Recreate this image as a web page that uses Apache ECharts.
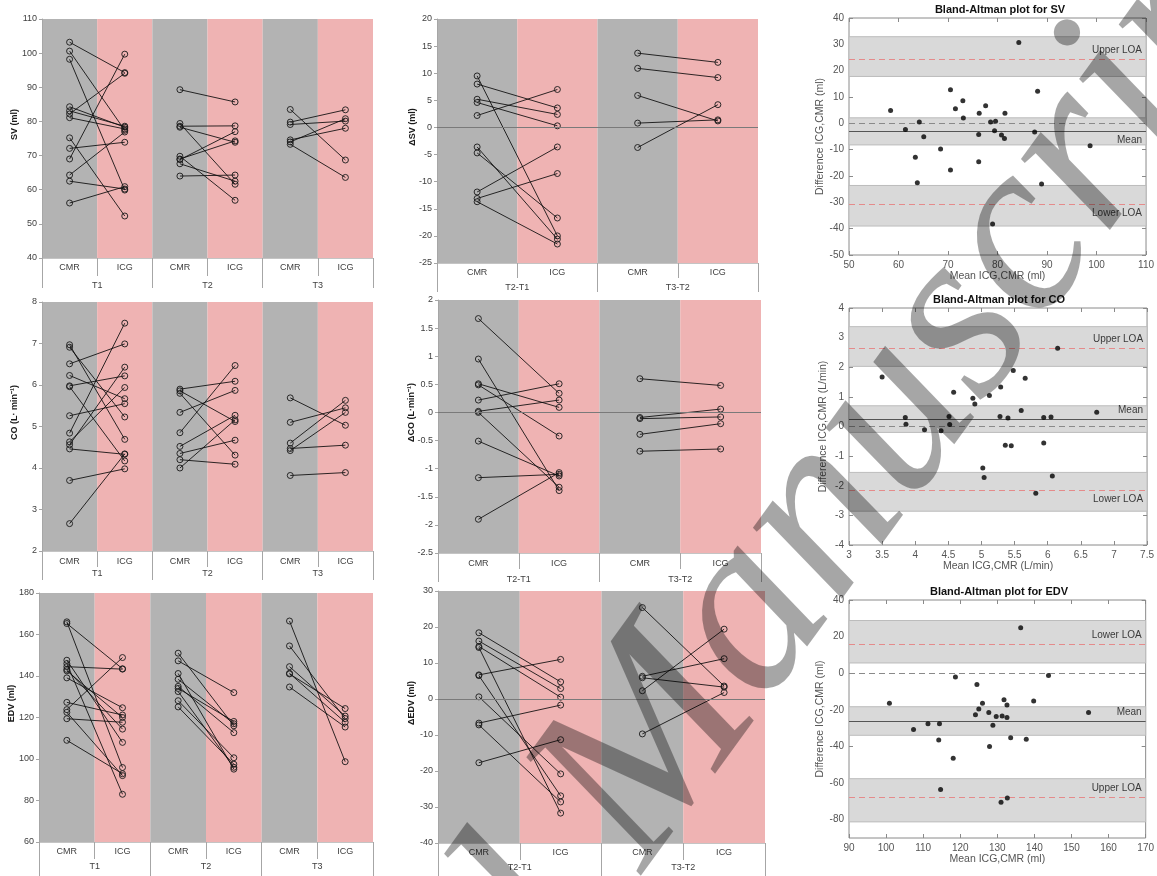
<!DOCTYPE html>
<html><head><meta charset="utf-8">
<script src="https://cdn.jsdelivr.net/npm/echarts@6/dist/echarts.min.js"></script>
<style>html,body{margin:0;padding:0;background:#fff}#c{width:1157px;height:876px}</style>
</head><body><div id="c"></div>
<script>
// ---------- categories / tick labels ----------
const catsT = ['CMR','ICG','CMR','ICG','CMR','ICG'];
const groupsT = ['T1','T2','T3'];
const catsD = ['CMR','ICG','CMR','ICG'];
const groupsD = ['T2-T1','T3-T2'];

// ---------- SV (ml), paired CMR -> ICG ----------
const svT1CMR = [103.2, 100.6, 98.2, 84.3, 83.1, 82.2, 81.1, 75.2, 72.1, 69.0, 64.3, 62.5, 56.1];
const svT1ICG = [94.3, 77.4, 59.9, 78.3, 78.6, 94.1, 77.8, 52.3, 73.9, 99.7, 76.9, 60.2, 60.9];
const svT2CMR = [89.3, 79.4, 78.6, 78.3, 69.8, 69.0, 68.8, 67.6, 64.0];
const svT2ICG = [85.7, 61.6, 78.7, 73.9, 56.9, 74.3, 77.0, 62.5, 64.3];
const svT3CMR = [83.5, 79.8, 79.1, 74.6, 74.0, 73.3];
const svT3ICG = [68.7, 83.4, 80.1, 78.0, 80.8, 63.6];

// ---------- ΔSV (ml) ----------
const dsvA_CMR = [9.5, 8.0, 5.2, 4.6, 2.2, -3.6, -4.7, -11.9, -13.1, -13.7];
const dsvA_ICG = [-20.0, 3.6, 2.4, 0.3, 7.0, -20.6, -16.7, -3.6, -8.5, -21.5];
const dsvB_CMR = [13.7, 10.9, 5.9, 0.8, -3.7];
const dsvB_ICG = [12.0, 9.2, 1.2, 1.4, 4.2];

// ---------- CO (L/min) ----------
const coT1CMR = [6.97, 6.91, 6.51, 6.23, 5.98, 5.96, 5.26, 4.84, 4.63, 4.56, 4.46, 3.70, 2.66];
const coT1ICG = [4.69, 5.23, 6.99, 5.67, 6.22, 4.17, 5.55, 7.49, 5.94, 6.43, 4.33, 3.98, 4.34];
const coT2CMR = [5.90, 5.86, 5.80, 5.34, 4.85, 4.52, 4.35, 4.20, 4.00];
const coT2ICG = [6.09, 5.12, 4.31, 5.87, 6.47, 5.27, 4.67, 4.09, 5.16];
const coT3CMR = [5.69, 5.10, 4.60, 4.47, 4.42, 3.82];
const coT3ICG = [5.03, 5.45, 5.63, 4.55, 5.34, 3.89];

// ---------- ΔCO (L/min) ----------
const dcoA_CMR = [1.67, 0.95, 0.51, 0.49, 0.22, 0.02, 0.00, -0.51, -1.16, -1.90];
const dcoA_ICG = [0.34, -1.39, 0.09, -0.42, 0.51, 0.22, -1.33, -1.13, -1.10, -1.07];
const dcoB_CMR = [0.60, -0.09, -0.11, -0.39, -0.69];
const dcoB_ICG = [0.48, 0.06, -0.08, -0.20, -0.65];

// ---------- EDV (ml) ----------
const edvT1CMR = [166.1, 165.3, 147.6, 146.0, 144.5, 143.2, 142.5, 139.1, 127.3, 123.8, 122.5, 119.4, 109.0];
const edvT1ICG = [95.9, 143.5, 108.0, 83.0, 143.3, 114.4, 120.0, 124.7, 121.2, 148.9, 92.0, 117.7, 92.9];
const edvT2CMR = [151.0, 147.3, 141.2, 138.4, 135.0, 134.0, 132.5, 128.1, 125.1];
const edvT2ICG = [116.0, 132.0, 95.1, 117.0, 112.7, 118.1, 96.0, 100.6, 97.5];
const edvT3CMR = [166.5, 154.5, 144.5, 141.3, 141.0, 134.7];
const edvT3ICG = [98.7, 119.5, 120.7, 117.7, 124.3, 115.4];

// ---------- ΔEDV (ml) ----------
const dedvA_CMR = [18.4, 16.1, 14.6, 14.3, 6.7, 6.5, 0.6, -6.7, -7.2, -17.7];
const dedvA_ICG = [4.75, 2.9, 0.5, -31.7, 11.0, -26.9, -20.8, -1.7, -28.6, -11.3];
const dedvB_CMR = [25.4, 6.3, 5.9, 2.3, -9.7];
const dedvB_ICG = [3.6, 11.2, 3.3, 19.4, 1.8];

// ---------- Bland-Altman: mean / difference ----------
const baSV_mean = [58.4, 61.4, 63.4, 63.8, 64.2, 65.1, 68.5, 70.5, 70.5, 71.5, 73.0, 73.1, 76.3, 76.2, 76.2, 77.6, 78.6, 79.4, 79.6, 79.0, 80.8, 81.4, 81.5, 84.3, 87.5, 88.1, 88.9, 98.7];
const baSV_diff = [4.9, -2.3, -12.9, -22.6, 0.5, -5.1, -9.7, 12.8, -17.7, 5.5, 8.6, 2.0, 3.8, -4.2, -14.6, 6.7, 0.5, -2.8, 0.8, -38.2, -4.4, -5.8, 3.8, 30.7, -3.3, 12.2, -23.0, -8.5];
const baSV_bands = [[17.8, 32.9], [-8.2, 2.1], [-39.0, -23.6]];
const baSV_levels = [24.4, 0, -3.1, -30.6];   // upper LOA, zero, mean, lower LOA

const baCO_mean = [3.50, 3.85, 3.86, 4.14, 4.39, 4.58, 4.51, 4.52, 4.87, 4.90, 5.02, 5.04, 5.12, 5.28, 5.29, 5.36, 5.40, 5.45, 5.48, 5.60, 5.66, 5.82, 5.94, 5.94, 6.05, 6.07, 6.15, 6.74];
const baCO_diff = [1.67, 0.30, 0.08, -0.11, -0.14, 1.16, 0.34, 0.07, 0.95, 0.76, -1.40, -1.72, 1.05, 0.34, 1.33, -0.63, 0.29, -0.65, 1.89, 0.54, 1.63, -2.25, 0.30, -0.56, 0.32, -1.67, 2.64, 0.48];
const baCO_bands = [[2.03, 3.37], [-0.20, 0.70], [-2.86, -1.55]];
const baCO_levels = [2.63, 0, 0.25, -2.14];

const baEDV_mean = [100.9, 107.4, 111.3, 114.4, 114.2, 114.7, 118.1, 118.7, 124.1, 124.5, 125.0, 126.0, 127.7, 127.9, 129.7, 128.8, 131.3, 131.8, 132.6, 132.6, 132.7, 131.0, 133.6, 136.3, 137.8, 139.8, 143.8, 154.6];
const baEDV_diff = [-16.4, -30.7, -27.6, -27.6, -36.5, -63.5, -46.5, -2.0, -22.7, -6.2, -19.5, -16.4, -21.5, -40.0, -23.6, -28.4, -23.3, -14.5, -17.3, -24.2, -68.2, -70.5, -35.3, 24.9, -36.0, -15.1, -1.3, -21.5];
const baEDV_bands = [[5.6, 28.8], [-33.9, -18.3], [-81.2, -57.6]];
const baEDV_levels = [15.7, 0, -26.2, -68.0];
const baEDV_yTicks = [-80, -60, -40, -20, 0, 20, 40];

// ---------- building ----------
const FONT = '"Liberation Sans", Arial, Helvetica, sans-serif';
const grids = [], xAxes = [], yAxes = [], series = [], graphics = [];

function pairedPanel(c) {
  const gi = grids.length;
  grids.push({left: c.rect[0], top: c.rect[1], width: c.rect[2], height: c.rect[3]});
  const xi = xAxes.length;
  xAxes.push({type:'category', gridIndex:gi, data:c.cats, position:'bottom', boundaryGap:true,
    axisLine:{show:true, onZero:false, lineStyle:{color:'#c4c4c4', width:1}},
    axisTick:{show:true, interval:0, length:c.shortTick, lineStyle:{color:'#a6a6a6'}},
    axisLabel:{interval:0, margin:c.catMargin, fontSize:9, color:'#404040', fontFamily:FONT},
    splitLine:{show:false},
    splitArea:{show:true, interval:0, areaStyle:{color:['#b3b3b3','#efb3b3']}}});
  xAxes.push({type:'category', gridIndex:gi, data:c.groups, position:'bottom', boundaryGap:true,
    axisLine:{show:false, onZero:false},
    axisTick:{show:true, interval:0, length:c.longTick, lineStyle:{color:'#a6a6a6'}},
    axisLabel:{interval:0, margin:c.groupMargin, fontSize:9, color:'#404040', fontFamily:FONT},
    splitLine:{show:false}, splitArea:{show:false}});
  const yi = yAxes.length;
  yAxes.push({type:'value', gridIndex:gi, min:c.y[0], max:c.y[1], interval:c.y[2],
    axisLine:{show:true, onZero:false, lineStyle:{color:'#a6a6a6'}},
    axisTick:{show:true, length:3, lineStyle:{color:'#a6a6a6'}},
    axisLabel:{fontSize:9, color:'#404040', margin:5, fontFamily:FONT},
    splitLine:{show:false}});
  // axis title, centred a little above the plot centre (as in the source layout)
  graphics.push({type:'text', x:c.nameX, y:c.rect[1] + c.rect[3] / 2 - 14, rotation:Math.PI / 2, silent:true,
    style:{text:c.name, font:'bold 9px ' + FONT, fill:'#1a1a1a', align:'center', verticalAlign:'middle'}});
  let first = true;
  c.pairs.forEach((pr, k) => {
    const cm = pr[0], ic = pr[1];
    for (let j = 0; j < cm.length; j++) {
      const s = {type:'line', xAxisIndex:xi, yAxisIndex:yi, silent:true, z:3,
        data:[[2*k, cm[j]], [2*k+1, ic[j]]],
        symbol:'circle', symbolSize:6, showSymbol:true,
        lineStyle:{color:'rgba(10,10,10,0.85)', width:1},
        itemStyle:{color:'rgba(0,0,0,0)', borderColor:'rgba(25,25,25,0.9)', borderWidth:1}};
      if (first && c.zero) {
        s.markLine = {silent:true, symbol:'none', label:{show:false},
          lineStyle:{color:'#7a7a7a', type:'solid', width:1}, data:[{yAxis:0}]};
      }
      first = false;
      series.push(s);
    }
  });
}

function baPanel(c) {
  const gi = grids.length;
  grids.push({left:c.rect[0], top:c.rect[1], width:c.rect[2], height:c.rect[3],
    show:true, borderColor:'#8a8a8a', borderWidth:1, backgroundColor:'rgba(0,0,0,0)'});
  const xi = xAxes.length;
  const tickCol = '#8a8a8a';
  xAxes.push({type:'value', gridIndex:gi, min:c.x[0], max:c.x[1], interval:c.x[2], position:'bottom',
    axisLine:{show:false, onZero:false}, axisTick:{show:true, inside:true, length:4, lineStyle:{color:tickCol}},
    axisLabel:{fontSize:10, color:'#555', margin:5, fontFamily:FONT}, splitLine:{show:false},
    name:c.xName, nameLocation:'middle', nameGap:16,
    nameTextStyle:{fontSize:10.5, color:'#555', fontFamily:FONT}});
  xAxes.push({type:'value', gridIndex:gi, min:c.x[0], max:c.x[1], interval:c.x[2], position:'top',
    axisLine:{show:false, onZero:false}, axisTick:{show:true, inside:true, length:4, lineStyle:{color:tickCol}},
    axisLabel:{show:false}, splitLine:{show:false}});
  const yi = yAxes.length;
  const yl = {type:'value', gridIndex:gi, min:c.y[0], max:c.y[1], position:'left',
    axisLine:{show:false, onZero:false}, axisTick:{show:true, inside:true, length:4, lineStyle:{color:tickCol}},
    axisLabel:{fontSize:10, color:'#555', margin:5, fontFamily:FONT}, splitLine:{show:false},
    name:c.yName, nameLocation:'middle', nameGap:c.yNameGap,
    nameTextStyle:{fontSize:10.5, color:'#555', fontFamily:FONT}};
  const yr = {type:'value', gridIndex:gi, min:c.y[0], max:c.y[1], position:'right',
    axisLine:{show:false, onZero:false}, axisTick:{show:true, inside:true, length:4, lineStyle:{color:tickCol}},
    axisLabel:{show:false}, splitLine:{show:false}};
  if (c.yTicks) {
    yl.axisLabel.customValues = c.yTicks; yl.axisTick.customValues = c.yTicks;
    yr.axisTick.customValues = c.yTicks;
  } else { yl.interval = c.y[2]; yr.interval = c.y[2]; }
  yAxes.push(yl); yAxes.push(yr);
  const red = '#e58b8b';
  const lv = c.levels;
  const lab = (t, pos) => ({show:true, formatter:t, position:pos, color:'#3a3a3a', fontSize:10, fontFamily:FONT, distance:4});
  series.push({type:'scatter', xAxisIndex:xi, yAxisIndex:yi, silent:true, z:5,
    data:c.mean.map((m, i) => [m, c.diff[i]]),
    symbol:'circle', symbolSize:5, itemStyle:{color:'#000'},
    markArea:{silent:true, itemStyle:{color:'#d9d9d9', borderColor:'#bcbcbc', borderWidth:1},
      data:c.bands.map(b => [{yAxis:b[0]}, {yAxis:b[1]}])},
    markLine:{silent:true, symbol:'none', animation:false,
      data:[
        {yAxis:lv[0], lineStyle:{color:red, type:[6,4], width:1.2}, label:lab(c.labels[0], c.labelPos[0])},
        {yAxis:lv[1], lineStyle:{color:'#8a8a8a', type:[6,4], width:1}, label:{show:false}},
        {yAxis:lv[2], lineStyle:{color:'#555', type:'solid', width:1}, label:lab(c.labels[1], c.labelPos[1])},
        {yAxis:lv[3], lineStyle:{color:red, type:[6,4], width:1.2}, label:lab(c.labels[2], c.labelPos[2])}
      ]}});
  graphics.push({type:'text', x:c.title[1], y:c.title[2], silent:true,
    style:{text:c.title[0], font:'bold 11px ' + FONT, fill:'#111', align:'center', verticalAlign:'middle'}});
}

pairedPanel({rect:[42,19,331,239], cats:catsT, groups:groupsT, y:[40,110,10], name:'SV (ml)', nameX:15,
  shortTick:18, longTick:30, catMargin:5, groupMargin:23,
  pairs:[[svT1CMR,svT1ICG],[svT2CMR,svT2ICG],[svT3CMR,svT3ICG]]});
pairedPanel({rect:[437,19,321,244], cats:catsD, groups:groupsD, y:[-25,20,5], name:'ΔSV (ml)', nameX:413,
  shortTick:15, longTick:29, catMargin:5, groupMargin:20, zero:true,
  pairs:[[dsvA_CMR,dsvA_ICG],[dsvB_CMR,dsvB_ICG]]});
baPanel({rect:[849,18,301,237], x:[50,110,10], y:[-50,40,10], xName:'Mean ICG,CMR (ml)', yName:'Difference ICG,CMR (ml)', yNameGap:20,
  mean:baSV_mean, diff:baSV_diff, bands:baSV_bands, levels:baSV_levels,
  labels:['Upper LOA','Mean','Lower LOA'], labelPos:['insideEndTop','insideEndBottom','insideEndBottom'],
  title:['Bland-Altman plot for SV', 1000, 10]});

pairedPanel({rect:[42,302,331,249], cats:catsT, groups:groupsT, y:[2,8,1], name:'CO (L· min⁻¹)', nameX:15,
  shortTick:16, longTick:29, catMargin:6, groupMargin:18,
  pairs:[[coT1CMR,coT1ICG],[coT2CMR,coT2ICG],[coT3CMR,coT3ICG]]});
pairedPanel({rect:[438,300,323,253], cats:catsD, groups:groupsD, y:[-2.5,2,0.5], name:'ΔCO (L·min⁻¹)', nameX:412,
  shortTick:16, longTick:29, catMargin:6, groupMargin:22, zero:true,
  pairs:[[dcoA_CMR,dcoA_ICG],[dcoB_CMR,dcoB_ICG]]});
baPanel({rect:[849,308,301,237], x:[3,7.5,0.5], y:[-4,4,1], xName:'Mean ICG,CMR (L/min)', yName:'Difference ICG,CMR (L/min)', yNameGap:20,
  mean:baCO_mean, diff:baCO_diff, bands:baCO_bands, levels:baCO_levels,
  labels:['Upper LOA','Mean','Lower LOA'], labelPos:['insideEndTop','insideEndTop','insideEndBottom'],
  title:['Bland-Altman plot for CO', 999, 300]});

pairedPanel({rect:[39,593,334,249], cats:catsT, groups:groupsT, y:[60,180,20], name:'EDV (ml)', nameX:12,
  shortTick:17, longTick:34, catMargin:5, groupMargin:20,
  pairs:[[edvT1CMR,edvT1ICG],[edvT2CMR,edvT2ICG],[edvT3CMR,edvT3ICG]]});
pairedPanel({rect:[438,591,327,252], cats:catsD, groups:groupsD, y:[-40,30,10], name:'ΔEDV (ml)', nameX:412,
  shortTick:17, longTick:33, catMargin:5, groupMargin:20, zero:true,
  pairs:[[dedvA_CMR,dedvA_ICG],[dedvB_CMR,dedvB_ICG]]});
baPanel({rect:[849,600,301,238], x:[90,170,10], y:[-90,40,10], yTicks:baEDV_yTicks, xName:'Mean ICG,CMR (ml)', yName:'Difference ICG,CMR (ml)', yNameGap:20,
  mean:baEDV_mean, diff:baEDV_diff, bands:baEDV_bands, levels:baEDV_levels,
  labels:['Lower LOA','Mean','Upper LOA'], labelPos:['insideEndTop','insideEndTop','insideEndTop'],
  title:['Bland-Altman plot for EDV', 999, 592]});

// watermark ("Accepted Manuscript" stamp, rotated)
const wmRot = 54 * Math.PI / 180;
const wmFont = 'italic 248px "Liberation Serif"';
const wmFill = 'rgba(0,0,0,0.35)';
graphics.push({type:'text', x:690, y:908, rotation:wmRot, silent:true, z:100,
  style:{text:'Manuscript', font:wmFont, fill:wmFill, align:'left', verticalAlign:'bottom'}});
graphics.push({type:'text', x:690 - 62*Math.cos(wmRot), y:908 + 62*Math.sin(wmRot), rotation:wmRot, silent:true, z:100,
  style:{text:'Accepted', font:wmFont, fill:wmFill, align:'right', verticalAlign:'bottom'}});

const chart = echarts.init(document.getElementById('c'), null, {renderer:'canvas'});
chart.setOption({animation:false, backgroundColor:'#ffffff', grid:grids, xAxis:xAxes, yAxis:yAxes, series:series, graphic:graphics});
</script></body></html>
